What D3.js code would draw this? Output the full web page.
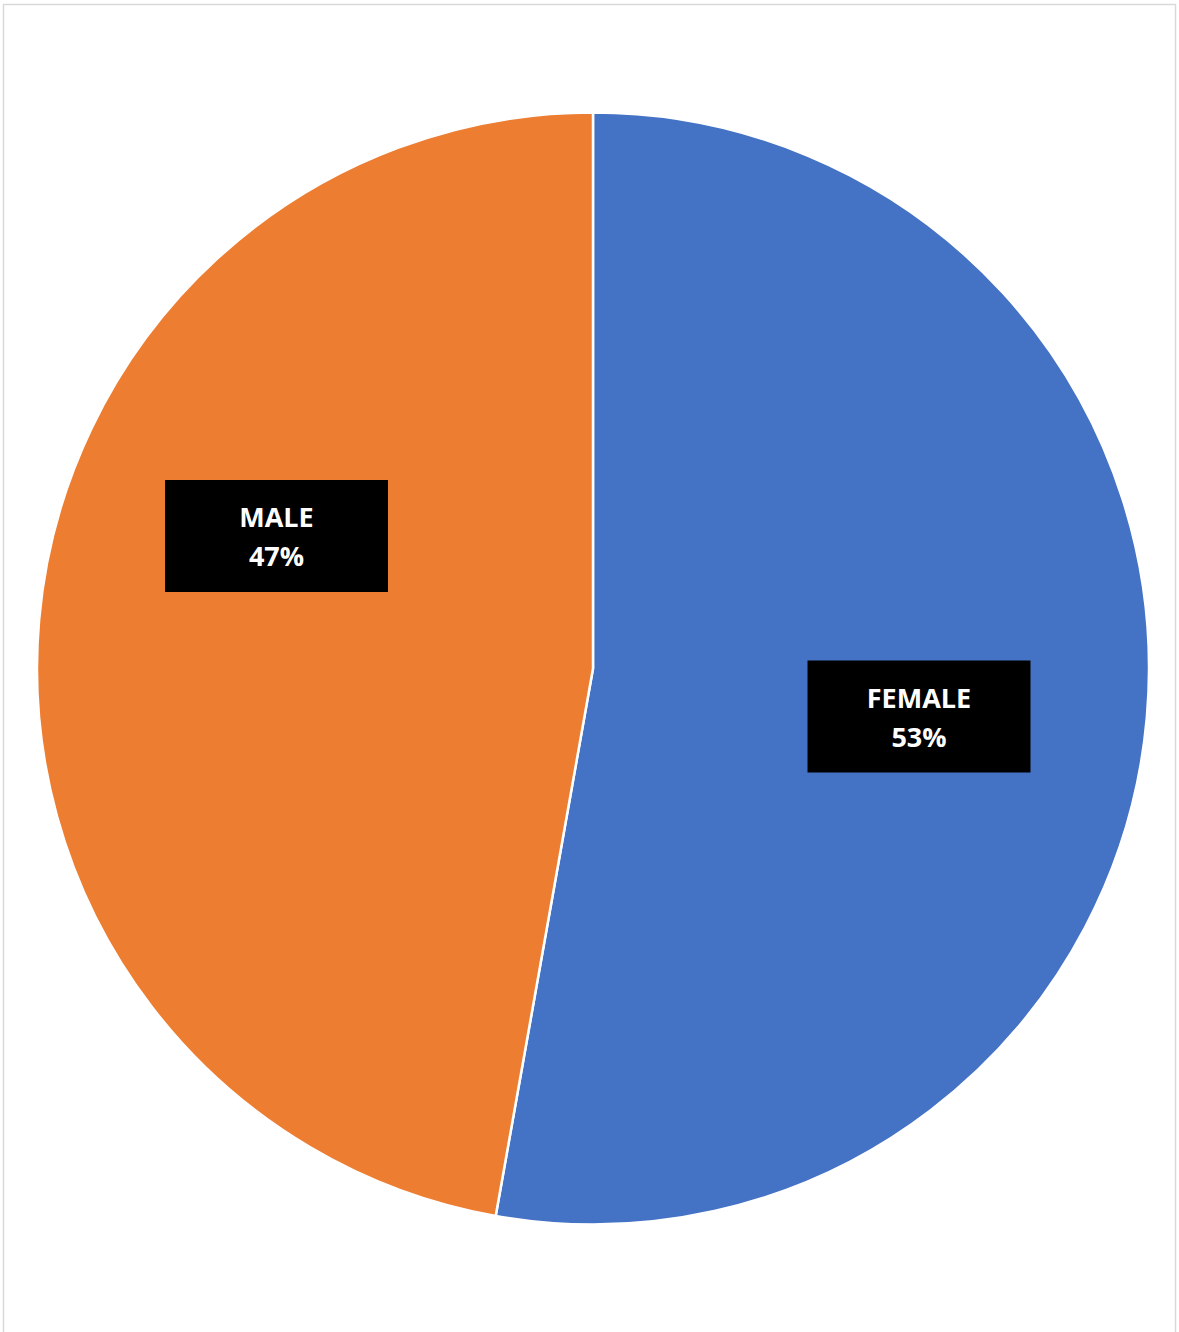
<!DOCTYPE html>
<html>
<head>
<meta charset="utf-8">
<script src="https://cdn.jsdelivr.net/npm/d3@7"></script>
<style>
  html, body { margin: 0; padding: 0; background: #fff; }
  svg { display: block; }
</style>
</head>
<body>
<div id="chart"></div>
<script>
// Data
const categories = ["FEMALE", "MALE"];
const values = [52.8, 47.2];
const labels = ["53%", "47%"];
const colors = ["#4472C4", "#ED7D31"];

const W = 1179, H = 1332;
const cx = 593, cy = 668.5, R = 556;

const svg = d3.select("#chart").append("svg")
  .attr("width", W).attr("height", H);

svg.append("rect").attr("width", W).attr("height", H).attr("fill", "#fff");

// Chart frame
svg.append("path")
  .attr("d", `M3.5,${H} L3.5,4.5 L1175.5,4.5 L1175.5,${H}`)
  .attr("fill", "none").attr("stroke", "#d9d9d9").attr("stroke-width", 1.5);

const data = categories.map((c, i) => ({ cat: c, value: values[i], label: labels[i], color: colors[i] }));

const pie = d3.pie().value(d => d.value).sort(null);
const arc = d3.arc().innerRadius(0).outerRadius(R);

const g = svg.append("g").attr("transform", `translate(${cx},${cy})`);
const arcs = pie(data);

g.selectAll("path.slice").data(arcs).join("path")
  .attr("class", "slice")
  .attr("d", arc)
  .attr("fill", d => d.data.color)
  .attr("stroke", "#fff")
  .attr("stroke-width", 2.5)
  .attr("stroke-linejoin", "round");

// Data labels (black boxes), placed like the reference
const labelPos = { "FEMALE": [326, 48], "MALE": [-316.5, -132.5] };
const boxW = 223, boxH = 112;

const lg = g.selectAll("g.lbl").data(arcs).join("g")
  .attr("class", "lbl")
  .attr("transform", d => `translate(${labelPos[d.data.cat][0]},${labelPos[d.data.cat][1]})`);

lg.append("rect")
  .attr("x", -boxW / 2).attr("y", -boxH / 2)
  .attr("width", boxW).attr("height", boxH)
  .attr("fill", "#000");

lg.append("text")
  .attr("text-anchor", "middle")
  .attr("y", -9)
  .attr("font-family", "'Open Sans', 'Liberation Sans', sans-serif")
  .attr("font-weight", "bold")
  .attr("font-size", 27)
  .attr("fill", "#fff")
  .text(d => d.data.cat);

lg.append("text")
  .attr("text-anchor", "middle")
  .attr("y", 30)
  .attr("font-family", "'Open Sans', 'Liberation Sans', sans-serif")
  .attr("font-weight", "bold")
  .attr("font-size", 27)
  .attr("fill", "#fff")
  .text(d => d.data.label);
</script>
</body>
</html>
